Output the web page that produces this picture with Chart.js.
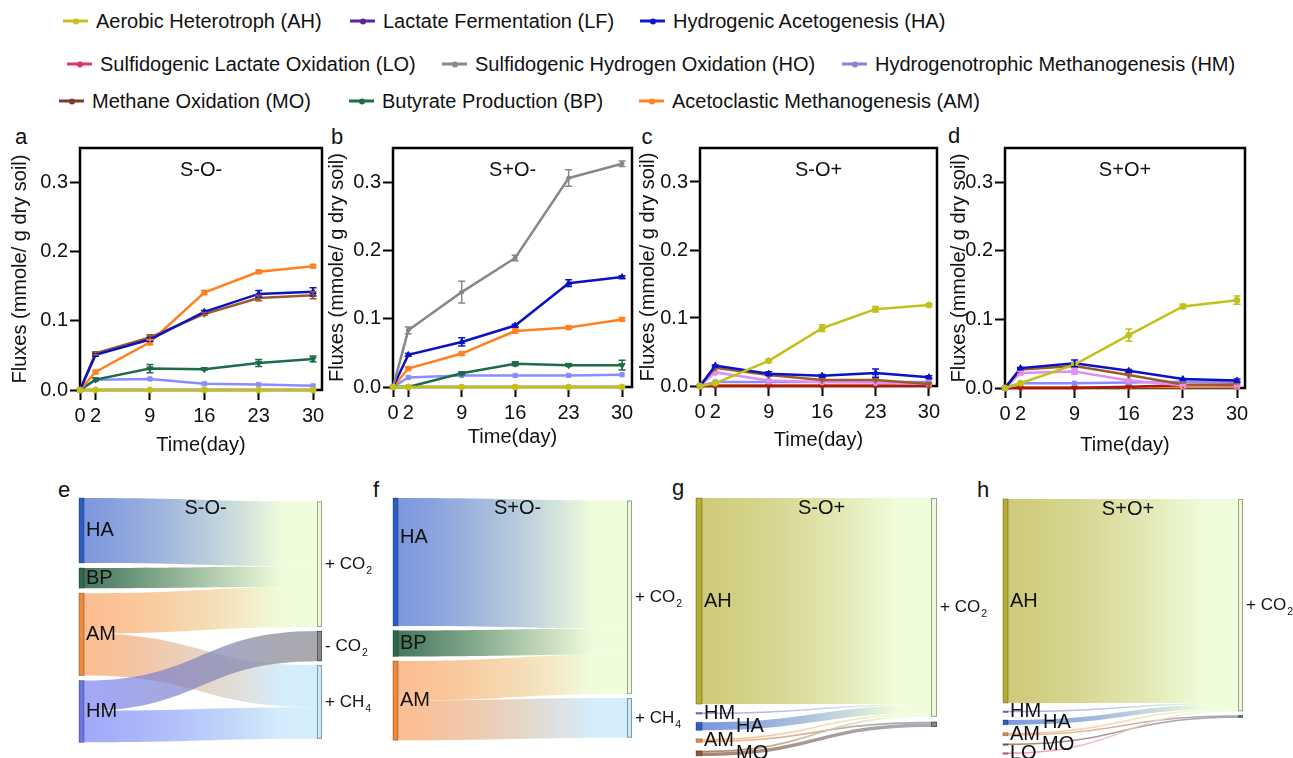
<!DOCTYPE html>
<html><head><meta charset="utf-8">
<script src="https://cdn.jsdelivr.net/npm/chart.js@4.4.1/dist/chart.umd.min.js"></script>
<style>
body{margin:0;background:#fff;}
#wrap{position:relative;width:1293px;height:758px;overflow:hidden;background:#fff;font-family:'Liberation Sans',Arial,sans-serif;color:#111;}
canvas{position:absolute;}
.lg{position:absolute;font-size:20px;white-space:nowrap;transform:translateY(-50%);line-height:1;color:#111;}
.mk{position:absolute;height:3px;width:25px;transform:translateY(-50%);}
.mk i{position:absolute;left:10px;top:-1.5px;width:6px;height:6px;border-radius:50%;}
.let{position:absolute;font-size:22px;line-height:1;transform:translate(-50%,-50%);color:#111;}
</style></head><body><div id="wrap"></div><script>
// ---------------- DATA ----------------
const days = [0, 2, 9, 16, 23, 30];
const yTickValues = [0, 0.1, 0.2, 0.3];
const seriesKeys = ['AH','LF','HA','LO','HO','HM','MO','BP','AM'];
const seriesNames = ['Aerobic Heterotroph (AH)','Lactate Fermentation (LF)','Hydrogenic Acetogenesis (HA)',
  'Sulfidogenic Lactate Oxidation (LO)','Sulfidogenic Hydrogen Oxidation (HO)','Hydrogenotrophic Methanogenesis (HM)',
  'Methane Oxidation (MO)','Butyrate Production (BP)','Acetoclastic Methanogenesis (AM)'];

// panel a  S-O-
const a_AH = [0, 0, 0, 0, 0, 0];
const a_HA = [0, 0.051, 0.073, 0.113, 0.139, 0.142];
const a_HA_err = [0, 0.002, 0.003, 0.002, 0.005, 0.006];
const a_MO = [0, 0.053, 0.076, 0.110, 0.133, 0.137];
const a_MO_err = [0, 0.002, 0.004, 0.002, 0.004, 0.005];
const a_AM = [0, 0.026, 0.069, 0.141, 0.171, 0.179];
const a_AM_err = [0, 0.002, 0.004, 0.003, 0.002, 0.002];
const a_BP = [0, 0.015, 0.031, 0.030, 0.039, 0.045];
const a_BP_err = [0, 0.002, 0.006, 0.001, 0.005, 0.004];
const a_HM = [0, 0.015, 0.016, 0.009, 0.008, 0.006];

// panel b  S+O-
const b_AH = [0, 0, 0, 0, 0, 0];
const b_HO = [0, 0.083, 0.139, 0.189, 0.306, 0.327];
const b_HO_err = [0, 0.005, 0.016, 0.004, 0.012, 0.004];
const b_HA = [0, 0.047, 0.066, 0.090, 0.152, 0.161];
const b_HA_err = [0, 0.002, 0.006, 0.002, 0.005, 0.002];
const b_AM = [0, 0.027, 0.049, 0.082, 0.087, 0.099];
const b_AM_err = [0, 0.002, 0.002, 0.003, 0.002, 0.002];
const b_BP = [0, 0, 0.020, 0.034, 0.032, 0.032];
const b_BP_err = [0, 0, 0.002, 0.003, 0.002, 0.007];
const b_HM = [0, 0.014, 0.017, 0.017, 0.017, 0.018];

// panel c  S-O+
const c_AH = [0, 0.004, 0.037, 0.085, 0.113, 0.119];
const c_AH_err = [0, 0.001, 0.002, 0.005, 0.004, 0.002];
const c_HA = [0, 0.030, 0.018, 0.015, 0.019, 0.013];
const c_HA_err = [0, 0.001, 0.003, 0.002, 0.006, 0.002];
const c_MO = [0, 0.027, 0.016, 0.009, 0.009, 0.003];
const c_LF = [0, 0.020, 0.008, 0.006, 0.005, 0.003];
const c_HM = [0, 0.006, 0.006, 0.006, 0.006, 0.006];
const c_LO = [0, 0, 0, 0, 0, 0];
const c_AM = [0, 0.001, 0.001, 0.001, 0.001, 0.001];

// panel d  S+O+
const d_AH = [0, 0.007, 0.034, 0.077, 0.119, 0.128];
const d_AH_err = [0, 0.001, 0.002, 0.009, 0.003, 0.006];
const d_HA = [0, 0.029, 0.036, 0.025, 0.013, 0.011];
const d_HA_err = [0, 0.001, 0.005, 0.002, 0.001, 0.002];
const d_MO = [0, 0.027, 0.032, 0.019, 0.005, 0.004];
const d_LF = [0, 0.022, 0.024, 0.011, 0.004, 0.003];
const d_LF_err = [0, 0.002, 0.004, 0.001, 0.001, 0.001];
const d_HM = [0, 0.007, 0.007, 0.008, 0.009, 0.009];
const d_LO = [0, 0, 0, 0.002, 0.004, 0.005];
const d_AM = [0, 0.001, 0.001, 0.001, 0.001, 0.001];

// Sankey e  S-O-
const e_left = ['HA','BP','AM','HM'];
const e_right = ['+ CO2','- CO2','+ CH4'];
const e_links = [['HA','+ CO2',0.142],['BP','+ CO2',0.044],['AM','+ CO2',0.088],['AM','+ CH4',0.092],['HM','- CO2',0.066],['HM','+ CH4',0.069]];
// Sankey f  S+O-
const f_left = ['HA','BP','AM'];
const f_right = ['+ CO2','+ CH4'];
const f_links = [['HA','+ CO2',0.160],['BP','+ CO2',0.0325],['AM','+ CO2',0.0495],['AM','+ CH4',0.0495]];
// Sankey g  S-O+
const g_left = ['AH','HM','HA','AM','MO'];
const g_right = ['+ CO2','- CO2'];
const g_links = [['AH','+ CO2',0.120],['HM','+ CO2',0.0007],['HA','+ CO2',0.0047],['AM','+ CO2',0.001],['AM','- CO2',0.001],['MO','+ CO2',0.001],['MO','- CO2',0.002]];
// Sankey h  S+O+
const h_left = ['AH','HM','HA','AM','MO','LO'];
const h_right = ['+ CO2','- CO2'];
const h_links = [['AH','+ CO2',0.128],['HM','+ CO2',0.0006],['HA','+ CO2',0.003],['AM','+ CO2',0.001],['AM','- CO2',0.0009],['MO','- CO2',0.0006],['LO','+ CO2',0.0006]];

// ---------------- STYLES ----------------
const FONT = "'Liberation Sans', Arial, sans-serif";
Chart.defaults.font.family = FONT;
Chart.defaults.color = '#111';
const legendColors = {AH:'#c4c21c',LF:'#5b22a8',HA:'#1616d0',LO:'#e2306c',HO:'#8a8a8a',HM:'#8a82d4',MO:'#7a3b30',BP:'#1d6e46',AM:'#ff8426'};
const plotColors = {AH:'#c3c01c',LF:'#e38ef0',HA:'#0b12c4',LO:'#a51a12',HO:'#868686',HM:'#8c8cff',MO:'#9a5b2c',BP:'#1d6b47',AM:'#ff8020'};
const pStyle = {AH:['circle',0,3],LF:['circle',0,3],HA:['triangle',0,3.5],LO:['triangle',180,3.5],HO:['circle',0,2],HM:['rect',0,3],MO:['triangle',180,3.5],BP:['triangle',180,3.5],AM:['rect',0,3.2]};
const legendPos = {AH:[0,96],LF:[0,383],HA:[0,673],LO:[1,100],HO:[1,475],HM:[1,875],MO:[2,92],BP:[2,382],AM:[2,672]};
const legendRowY = [21, 64, 101];

const nodeColors = {HA:'#2b5fc6',BP:'#2c6b4c',AM:'#ef8a3c',HM:'#6b75e0',AH:'#b6ae2e',MO:'#8c5a3c',LO:'#e4609c',
  '+ CO2':'#eefad6','- CO2':'#8a8a8a','+ CH4':'#cdeaf6'};
const nodeStroke = {'+ CO2':'#9aa48c','- CO2':'#5a5a5a','+ CH4':'#7a9cac'};
const linkStart = {HA:'rgba(55,95,205,0.65)',BP:'rgba(35,95,65,0.85)',AM:'rgba(250,145,70,0.6)',HM:'rgba(105,115,245,0.62)',
  AH:'rgba(178,170,40,0.62)',MO:'rgba(140,90,60,0.75)',LO:'rgba(240,110,170,0.75)'};
const linkEnd = {'+ CO2':'rgba(238,252,216,0.9)','- CO2':'rgba(140,140,150,0.75)','+ CH4':'rgba(205,234,250,0.85)'};

const wrap = document.getElementById('wrap');

// ---------------- LEGEND ----------------
seriesKeys.forEach((k, i) => {
  const [row, tx] = legendPos[k];
  const y = legendRowY[row];
  const mk = document.createElement('div');
  mk.className = 'mk';
  mk.style.left = (tx - 33) + 'px'; mk.style.top = y + 'px'; mk.style.background = legendColors[k];
  const dot = document.createElement('i'); dot.style.background = legendColors[k]; mk.appendChild(dot);
  wrap.appendChild(mk);
  const t = document.createElement('div');
  t.className = 'lg'; t.style.left = tx + 'px'; t.style.top = y + 'px'; t.textContent = seriesNames[i];
  wrap.appendChild(t);
});

// panel letters
[['a',21,137],['b',337,137],['c',647,137],['d',954,136],['e',64,490],['f',376,490],['g',678,488],['h',983,490]].forEach(([l,x,y]) => {
  const d = document.createElement('div'); d.className = 'let'; d.style.left = x + 'px'; d.style.top = y + 'px'; d.textContent = l; wrap.appendChild(d);
});

function addCanvas(left, top, w, h) {
  const c = document.createElement('canvas');
  c.width = w; c.height = h; c.style.left = left + 'px'; c.style.top = top + 'px';
  c.style.width = w + 'px'; c.style.height = h + 'px';
  wrap.appendChild(c);
  return c;
}

// ---------------- LINE PANELS ----------------
const linePanels = [
  {id:'a', title:'S-O-', left:0, top:115, w:330, h:345, pad:{left:0,top:33,right:8,bottom:0}, yWidth:80, xHeight:70, yTitlePad:8, xTitlePad:3, xMax:31.15,
   series:[['AH',a_AH],['HA',a_HA,a_HA_err],['MO',a_MO,a_MO_err],['AM',a_AM,a_AM_err],['BP',a_BP,a_BP_err],['HM',a_HM]]},
  {id:'b', title:'S+O-', left:320, top:115, w:330, h:345, pad:{left:0,top:33,right:18,bottom:0}, yWidth:73, xHeight:73, yTitlePad:5, xTitlePad:11, xMax:31.3,
   series:[['AH',b_AH],['HO',b_HO,b_HO_err],['HA',b_HA,b_HA_err],['AM',b_AM,b_AM_err],['BP',b_BP,b_BP_err],['HM',b_HM]]},
  {id:'c', title:'S-O+', left:630, top:115, w:330, h:345, pad:{left:0,top:33,right:23,bottom:0}, yWidth:70, xHeight:74, yTitlePad:6, xTitlePad:8, xMax:31.05,
   series:[['AH',c_AH,c_AH_err],['HA',c_HA,c_HA_err],['MO',c_MO],['LF',c_LF],['HM',c_HM],['LO',c_LO],['AM',c_AM]]},
  {id:'d', title:'S+O+', left:945, top:115, w:348, h:345, pad:{left:0,top:33,right:48,bottom:0}, yWidth:60, xHeight:72, yTitlePad:2, xTitlePad:3, xMax:31.03,
   series:[['AH',d_AH,d_AH_err],['HA',d_HA,d_HA_err],['MO',d_MO],['LF',d_LF,d_LF_err],['HM',d_HM],['LO',d_LO],['AM',d_AM]]}
];

function lineExtras(P) {
  return {
    id: 'extras',
    beforeDatasetsDraw(chart) {
      const {ctx, chartArea: a} = chart;
      ctx.save(); ctx.strokeStyle = '#000'; ctx.lineWidth = 2.5;
      ctx.strokeRect(a.left, a.top, a.right - a.left, a.bottom - a.top); ctx.restore();
    },
    afterDatasetsDraw(chart) {
      const {ctx} = chart; const xs = chart.scales.x, ys = chart.scales.y;
      chart.data.datasets.forEach(ds => {
        if (!ds.errors) return;
        ctx.save(); ctx.strokeStyle = ds.borderColor; ctx.lineWidth = 1.5;
        ds.errors.forEach((e, j) => {
          if (!e) return;
          const v = ds.data[j].y;
          const x = xs.getPixelForValue(days[j]);
          const y1 = ys.getPixelForValue(v + e), y2 = ys.getPixelForValue(Math.max(0, v - e));
          ctx.beginPath(); ctx.moveTo(x, y1); ctx.lineTo(x, y2);
          ctx.moveTo(x - 3.5, y1); ctx.lineTo(x + 3.5, y1);
          ctx.moveTo(x - 3.5, y2); ctx.lineTo(x + 3.5, y2); ctx.stroke();
        });
        ctx.restore();
      });
    },
    afterDraw(chart) {
      const {ctx, chartArea: a} = chart;
      ctx.save(); ctx.fillStyle = '#111'; ctx.font = '20px ' + FONT; ctx.textAlign = 'center'; ctx.textBaseline = 'middle';
      ctx.fillText(P.title, (a.left + a.right) / 2, a.top + 22); ctx.restore();
    }
  };
}

linePanels.forEach(P => {
  const cv = addCanvas(P.left, P.top, P.w, P.h);
  const gridOpts = {drawOnChartArea:false, drawTicks:true, tickLength:10, tickWidth:2, tickColor:'#000'};
  new Chart(cv, {
    type: 'line',
    data: {
      datasets: P.series.map(([k, vals, err]) => ({
        label: seriesNames[seriesKeys.indexOf(k)],
        data: days.map((d, i) => ({x: d, y: vals[i]})),
        errors: err || null,
        borderColor: plotColors[k], backgroundColor: plotColors[k],
        borderWidth: 2.5, tension: 0, clip: false,
        pointStyle: pStyle[k][0], rotation: pStyle[k][1], pointRadius: pStyle[k][2], pointBorderWidth: 1
      }))
    },
    options: {
      responsive: false, animation: false, devicePixelRatio: 1,
      layout: {padding: P.pad},
      plugins: {legend: {display: false}, tooltip: {enabled: false}},
      scales: {
        x: {type:'linear', min:0, max:P.xMax,
            afterBuildTicks: s => { s.ticks = days.map(v => ({value: v})); },
            afterFit: s => { s.height = P.xHeight; },
            grid: gridOpts, border: {display:false},
            ticks: {color:'#111', font:{size:20, family:FONT}, padding:4, maxRotation:0, autoSkip:false, callback: v => String(v)},
            title: {display:true, text:'Time(day)', color:'#111', font:{size:20, family:FONT}, padding:{top:0, bottom:P.xTitlePad}}},
        y: {type:'linear', min:0, max:0.35,
            afterBuildTicks: s => { s.ticks = yTickValues.map(v => ({value: v})); },
            afterFit: s => { s.width = P.yWidth; },
            grid: gridOpts, border: {display:false},
            ticks: {color:'#111', font:{size:20, family:FONT}, padding:2, callback: v => Number(v).toFixed(1)},
            title: {display:true, text:'Fluxes (mmole/ g dry soil)', color:'#111', font:{size:20, family:FONT}, padding:{top:P.yTitlePad, bottom:0}}}
      }
    },
    plugins: [lineExtras(P)]
  });
});

// ---------------- SANKEY PANELS ----------------
const sankeyPanels = [
  {title:'S-O-', left:60, top:475, w:320, h:283, pad:{left:19,right:58,top:23,bottom:0}, yMax:0.568, nodeWidth:5, gapL:5, gapR:4, align:'center',
   nodesL:e_left, nodesR:e_right, links:e_links, labelShift:{}},
  {title:'S+O-', left:380, top:475, w:310, h:283, pad:{left:13,right:58,top:23,bottom:0}, yMax:0.325, nodeWidth:5, gapL:4.5, gapR:4, align:'center',
   nodesL:f_left, nodesR:f_right, links:f_links, labelShift:{HA:[0,-25]}},
  {title:'S-O+', left:690, top:475, w:300, h:283, pad:{left:6,right:53,top:23,bottom:0}, yMax:0.1514, nodeWidth:6, gapL:8.5, gapR:5, align:'top',
   nodesL:g_left, nodesR:g_right, links:g_links, labelShift:{HA:[32,0], MO:[32,0]}},
  {title:'S+O+', left:990, top:475, w:303, h:283, pad:{left:13,right:50,top:24,bottom:0}, yMax:0.1625, nodeWidth:5, gapL:8, gapR:4, align:'top',
   nodesL:h_left, nodesR:h_right, links:h_links, labelShift:{HA:[33,0], MO:[32,0]}}
];

function drawRightLabel(ctx, name, x, y) {
  const m = name.match(/^(.*?)(\d)$/);
  ctx.save(); ctx.fillStyle = '#111'; ctx.textBaseline = 'middle'; ctx.textAlign = 'left';
  if (m) {
    ctx.font = '17px ' + FONT; ctx.fillText(m[1], x, y);
    const w = ctx.measureText(m[1]).width;
    ctx.font = '10.5px ' + FONT; ctx.fillText(m[2], x + w + 1, y + 7);
  } else { ctx.font = '17px ' + FONT; ctx.fillText(name, x, y); }
  ctx.restore();
}

function sankeyPlugin(S) {
  return {
    id: 'sankey',
    afterDraw(chart) {
      const ctx = chart.ctx, xs = chart.scales.x, ys = chart.scales.y, a = chart.chartArea;
      const xL = xs.getPixelForValue(0), xR = xs.getPixelForValue(1), nw = S.nodeWidth;
      const outV = {}, inV = {};
      S.links.forEach(([s, t, v]) => { outV[s] = (outV[s] || 0) + v; inV[t] = (inV[t] || 0) + v; });
      const column = (names, vals, gap) => {
        let cum = 0; const pos = {};
        names.forEach((n, i) => {
          const y0 = ys.getPixelForValue(cum) + i * gap; cum += vals[n];
          pos[n] = {y0, y1: ys.getPixelForValue(cum) + i * gap};
        });
        return pos;
      };
      const L = column(S.nodesL, outV, S.gapL), R = column(S.nodesR, inV, S.gapR);
      if (S.align === 'center') {
        const sh = (L[S.nodesL[S.nodesL.length - 1]].y1 - R[S.nodesR[S.nodesR.length - 1]].y1) / 2;
        for (const n in R) { R[n].y0 += sh; R[n].y1 += sh; }
      }
      const li = n => S.nodesL.indexOf(n), ri = n => S.nodesR.indexOf(n);
      const sOff = {}, tOff = {};
      S.nodesL.forEach(n => sOff[n] = L[n].y0); S.nodesR.forEach(n => tOff[n] = R[n].y0);
      const geom = S.links.slice().sort((p, q) => li(p[0]) - li(q[0]) || ri(p[1]) - ri(q[1])).map(l => {
        const hgt = ys.getPixelForValue(l[2]) - ys.getPixelForValue(0);
        const sy0 = sOff[l[0]]; sOff[l[0]] += hgt;
        return {l, sy0, sy1: sy0 + hgt, h: hgt};
      });
      geom.slice().sort((p, q) => ri(p.l[1]) - ri(q.l[1]) || li(p.l[0]) - li(q.l[0])).forEach(g => {
        g.ty0 = tOff[g.l[1]]; tOff[g.l[1]] += g.h; g.ty1 = g.ty0 + g.h;
      });
      const x0 = xL + nw, x1 = xR - nw, xm = (x0 + x1) / 2;
      ctx.save();
      geom.forEach(g => {
        let {sy0, sy1, ty0, ty1} = g;
        const minH = 1.4;
        if (sy1 - sy0 < minH) {
          const c = (sy0 + sy1) / 2, d = (ty0 + ty1) / 2;
          sy0 = c - minH / 2; sy1 = c + minH / 2; ty0 = d - minH / 2; ty1 = d + minH / 2;
        }
        const grad = ctx.createLinearGradient(x0, 0, x1, 0);
        grad.addColorStop(0, linkStart[g.l[0]]);
        grad.addColorStop(0.85, linkEnd[g.l[1]]);
        grad.addColorStop(1, linkEnd[g.l[1]]);
        ctx.beginPath(); ctx.moveTo(x0, sy0);
        ctx.bezierCurveTo(xm, sy0, xm, ty0, x1, ty0); ctx.lineTo(x1, ty1);
        ctx.bezierCurveTo(xm, ty1, xm, sy1, x0, sy1); ctx.closePath();
        ctx.fillStyle = grad; ctx.fill();
      });
      // nodes
      S.nodesL.forEach(n => {
        const p = L[n]; const hh = Math.max(1.5, p.y1 - p.y0);
        ctx.fillStyle = nodeColors[n]; ctx.fillRect(xL, p.y0, nw, hh);
        ctx.strokeStyle = 'rgba(0,0,0,0.35)'; ctx.lineWidth = 0.8; ctx.strokeRect(xL, p.y0, nw, hh);
      });
      S.nodesR.forEach(n => {
        const p = R[n]; const hh = Math.max(1.5, p.y1 - p.y0);
        ctx.fillStyle = nodeColors[n]; ctx.fillRect(xR - nw, p.y0, nw, hh);
        ctx.strokeStyle = nodeStroke[n]; ctx.lineWidth = 1; ctx.strokeRect(xR - nw + 0.5, p.y0 + 0.5, nw - 1, Math.max(0.5, hh - 1));
      });
      // labels
      ctx.fillStyle = '#111'; ctx.textBaseline = 'middle'; ctx.textAlign = 'left'; ctx.font = '20px ' + FONT;
      S.nodesL.forEach(n => {
        const p = L[n]; const sh = S.labelShift[n] || [0, 0];
        ctx.fillText(n, xL + nw + 2 + sh[0], (p.y0 + p.y1) / 2 + sh[1]);
      });
      S.nodesR.forEach(n => {
        const p = R[n];
        if (p.y1 - p.y0 < 8) return;
        drawRightLabel(ctx, n, xR + 3, (p.y0 + p.y1) / 2);
      });
      ctx.font = '20px ' + FONT; ctx.textAlign = 'center';
      ctx.fillText(S.title, (a.left + a.right) / 2 + 5, a.top + 10);
      ctx.restore();
    }
  };
}

sankeyPanels.forEach(S => {
  const cv = addCanvas(S.left, S.top, S.w, S.h);
  new Chart(cv, {
    type: 'scatter',
    data: {datasets: [{data: []}]},
    options: {
      responsive: false, animation: false, devicePixelRatio: 1,
      layout: {padding: S.pad},
      plugins: {legend: {display: false}, tooltip: {enabled: false}},
      scales: {
        x: {type:'linear', min:0, max:1, display:false},
        y: {type:'linear', min:0, max:S.yMax, reverse:true, display:false}
      }
    },
    plugins: [sankeyPlugin(S)]
  });
});
</script></body></html>
